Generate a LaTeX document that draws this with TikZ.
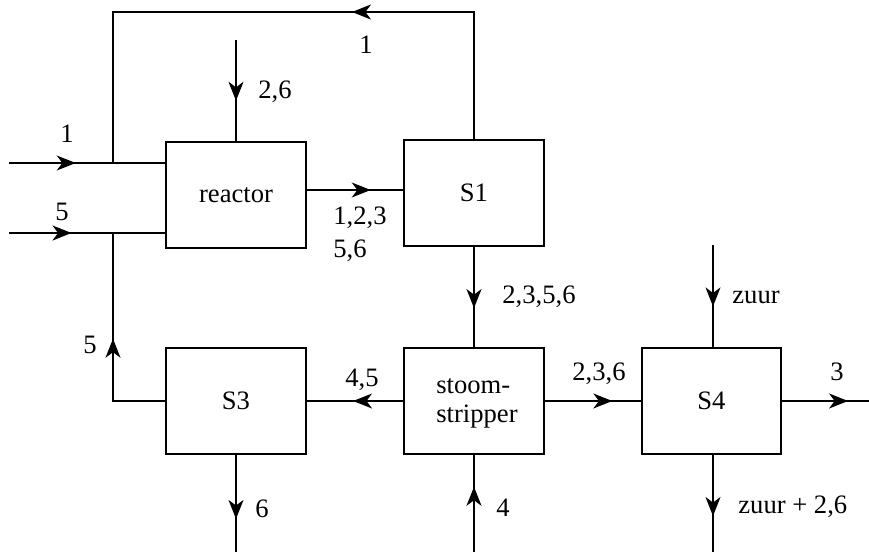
\documentclass[tikz,border=0pt]{standalone}
\usepackage{fontspec}
\setmainfont{Liberation Serif}
\usetikzlibrary{arrows.meta,decorations.markings}
\begin{document}
\begin{tikzpicture}[x=0.5pt,y=-0.5pt,
  font=\fontsize{13.3}{14.5}\selectfont,
  box/.style={draw,line width=0.7pt,minimum width=70pt,minimum height=53pt,inner sep=0pt},
  ln/.style={line width=0.7pt},
  ma/.style={postaction={decorate},decoration={markings,mark=at position #1 with {\arrow{Stealth[length=9.5pt,width=7.5pt,inset=2.8pt]}}}},
  lbl/.style={inner sep=0pt,anchor=base west}]
\useasboundingbox (0,0) rectangle (869,552);
% boxes
\node[box] (reactor) at (236,195) {reactor};
\node[box] (S1) at (474,193) {S1};
\node[box] (strip) at (474,401) {};
\node[box] (S3) at (236,401) {S3};
\node[box,minimum width=69.5pt] (S4) at (711.5,401) {S4};
\node[align=left,inner sep=0pt] (striptext) at (477,403) {stoom-\\stripper};
% free ends
\coordinate (in1) at (9,163);
\coordinate (in5) at (9,233);
\coordinate (top) at (236,40);
\coordinate (j1) at (113,163);
\coordinate (j5) at (113,233);
\coordinate (loopA) at (474,12);
\coordinate (loopB) at (113,12);
\coordinate (zuurin) at (713,245);
\coordinate (out3) at (869,401);
\coordinate (outz) at (713,552);
\coordinate (in4) at (474,552);
\coordinate (out6) at (236,552);
% connectors
\draw[ln,ma=0.427] (in1) -- (in1 -| reactor.west);
\draw[ln,ma=0.40] (in5) -- (in5 -| reactor.west);
\draw[ln,ma=0.39] (S1.north) -- (loopA) -- (loopB) -- (j1);
\draw[ln,ma=0.52] (S3.west) -- (S3.west -| j5) -- (j5);
\draw[ln,ma=0.60] (top) -- (reactor.north);
\draw[ln,ma=0.663] (reactor.east |- 0,190) -- (S1.west |- 0,190);
\draw[ln,ma=0.61] (S1.south) -- (strip.north);
\draw[ln,ma=0.52] (strip.west) -- (S3.east);
\draw[ln,ma=0.70] (strip.east) -- (S4.west);
\draw[ln,ma=0.76] (S4.east) -- (out3);
\draw[ln,ma=0.60] (zuurin) -- (zuurin |- S4.north);
\draw[ln,ma=0.63] (outz |- S4.south) -- (outz);
\draw[ln,ma=0.67] (in4) -- (strip.south);
\draw[ln,ma=0.66] (S3.south) -- (out6);
% labels
\node[lbl] (l1) at (359,53) {1};
\node[lbl] (l2) at (60,142) {1};
\node[lbl] (l3) at (55,220) {5};
\node[lbl] (l4) at (258,98) {2,6};
\node[lbl] (l5) at (333,224) {1,2,3};
\node[lbl] (l6) at (333,257) {5,6};
\node[lbl] (l7) at (502,303) {2,3,5,6};
\node[lbl] (l8) at (732,303) {zuur};
\node[lbl] (l9) at (572,380) {2,3,6};
\node[lbl] (l10) at (830,380) {3};
\node[lbl] (l11) at (496,516) {4};
\node[lbl] (l12) at (738,513) {zuur + 2,6};
\node[lbl] (l13) at (83,353) {5};
\node[lbl] (l14) at (345,386) {4,5};
\node[lbl] (l15) at (255,517) {6};
\end{tikzpicture}
\end{document}
